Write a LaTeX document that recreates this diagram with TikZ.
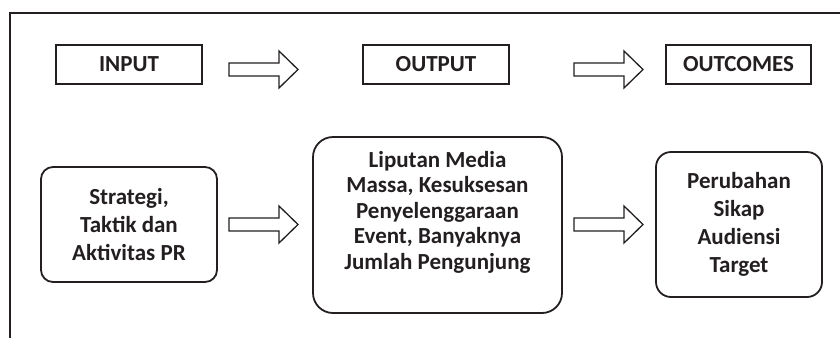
\documentclass[tikz,border=0pt]{standalone}
\usepackage{fontspec}
\setmainfont{Carlito}
\definecolor{ink}{HTML}{231F20}
\tikzset{
  lbl/.style={draw=ink, line width=1.8pt, text=ink, font=\fontsize{23}{25}\selectfont\bfseries, align=center, inner sep=0pt},
  txt/.style={text=ink, font=\fontsize{23}{25.5}\selectfont\bfseries, align=center, inner sep=0pt},
  topbox/.style={lbl, minimum height=39pt},
  rbox/.style={lbl, rounded corners=#1},
  arrowline/.style={draw=ink, line width=1.3pt, fill=white, line join=miter},
  blockarr/.pic={\path[arrowline] (0,-6.5) -- (50,-6.5) -- (50,-18.5) -- (69,0) -- (50,18.5) -- (50,6.5) -- (0,6.5) -- cycle;},
  frame/.style={draw=ink, line width=1.8pt}
}
\begin{document}
\begin{tikzpicture}[x=1pt,y=-1pt]
\useasboundingbox (0,0) rectangle (840,338);
\draw[frame] (10,338) -- (10,13) -- (840,13);
% top row
\node[topbox, minimum width=146pt] (inp) at (129,64.5) {INPUT};
\node[topbox, minimum width=146pt] (outp) at (436,64.5) {OUTPUT};
\node[topbox, minimum width=145pt] (outc) at (738.5,64.5) {OUTCOMES};
\pic at (229,69.5) {blockarr};
\pic at (574,69.5) {blockarr};
% bottom row
\node[rbox=12pt, minimum width=176pt, minimum height=115pt, font=\fontsize{23}{28}\selectfont\bfseries] (strat) at (129,224.5) {Strategi,\\Taktik dan\\Aktivitas PR};
\node[rbox=20pt, minimum width=249pt, minimum height=176pt] (lip) at (437.5,225) {};
\node[txt] (liptext) at ([yshift=13pt]lip.center) {Liputan Media\\Massa, Kesuksesan\\Penyelenggaraan\\Event, Banyaknya\\Jumlah Pengunjung};
\node[rbox=15pt, minimum width=166pt, minimum height=145pt, font=\fontsize{23}{28}\selectfont\bfseries] (peru) at (739,224.5) {Perubahan\\Sikap\\Audiensi\\Target};
\pic at (229,224.5) {blockarr};
\pic at (574,224.5) {blockarr};
\end{tikzpicture}
\end{document}
